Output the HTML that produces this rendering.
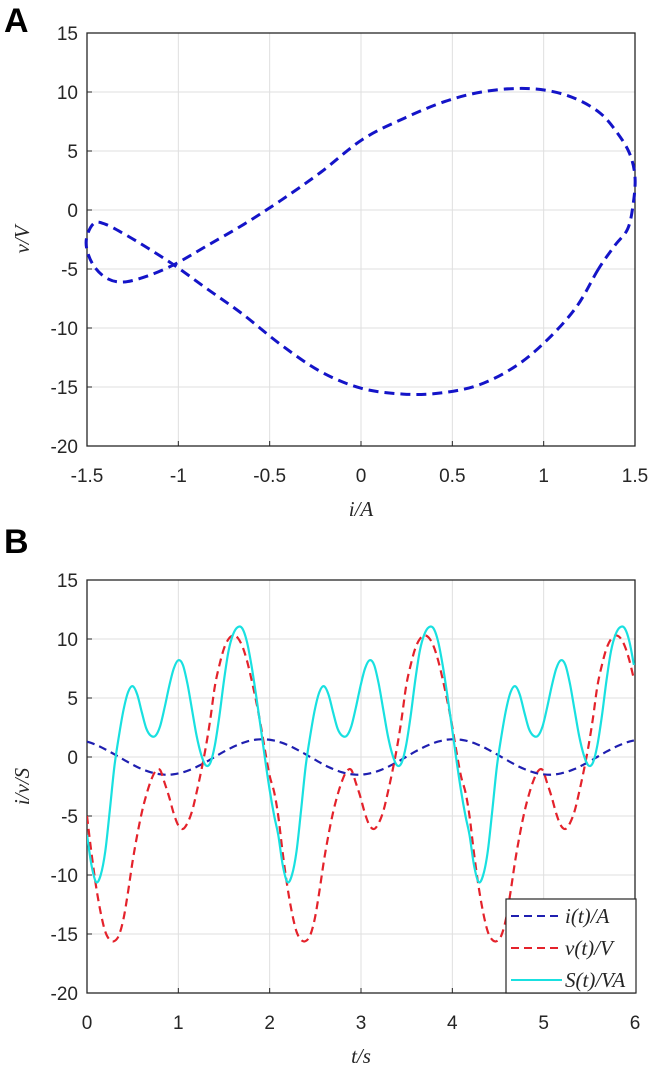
<!DOCTYPE html>
<html><head><meta charset="utf-8"><style>
body{margin:0;background:#fff;}
svg{display:block;font-family:"Liberation Sans",sans-serif;}
.tick{font-size:19px;fill:#262626;}
.lab{font-family:"Liberation Serif",serif;font-style:italic;font-size:21px;fill:#262626;}
</style></head><body>
<svg id="fig" width="666" height="1070" viewBox="0 0 666 1070"></svg>
<script>
// observed phase samples over one period (s)
const tauSamples=[0,0.05,0.1,0.15,0.2,0.25,0.3,0.35,0.4,0.45,0.5,0.55,0.6,0.65,0.7,0.75,0.8,0.85,0.9,0.95,1.0,1.05,1.1,1.15,1.2,1.25,1.3,1.35,1.4,1.45,1.5,1.55,1.6,1.65,1.7,1.75,1.8,1.85,1.9,1.95,2.0,2.05];
const cycleStarts=[0,2.094,4.188];
const iSamples=[1.30,1.18,1.02,0.85,0.65,0.44,0.23,0.00,-0.22,-0.44,-0.65,-0.85,-1.02,-1.17,-1.30,-1.40,-1.46,-1.50,-1.50,-1.46,-1.39,-1.30,-1.17,-1.02,-0.84,-0.64,-0.44,-0.22,0.01,0.24,0.46,0.66,0.86,1.03,1.18,1.31,1.40,1.47,1.50,1.49,1.46,1.39];
const vSamples=[-5,-8.2,-11,-13.2,-14.8,-15.5,-15.6,-15.1,-13.7,-11.4,-8.8,-6.6,-4.7,-3.2,-2.0,-1.2,-1.1,-2.2,-3.4,-4.8,-5.8,-6.1,-5.6,-4.6,-3.0,-1.2,0.8,3.2,6.0,7.8,9.2,10.0,10.3,10.1,9.4,8.2,6.6,4.8,2.8,0.5,-1.6,-3.0];
const sSamples=[-6.6,-9.2,-10.6,-10,-8,-4.5,-0.8,1.8,4,5.5,6,5.3,3.8,2.4,1.8,1.8,2.6,4.2,6,7.5,8.2,7.8,6.2,4,1.8,0.2,-0.7,-0.5,1,3.5,6.5,9,10.4,11,10.9,9.8,7.8,5.3,2.6,-0.2,-2.8,-5];
const xTicksA=[-1.5,-1,-0.5,0,0.5,1,1.5];
const xTickLabelsA=["-1.5","-1","-0.5","0","0.5","1","1.5"];
const yTicks=[15,10,5,0,-5,-10,-15,-20];
const yTickLabels=["15","10","5","0","-5","-10","-15","-20"];
const xTicksB=[0,1,2,3,4,5,6];
const xTickLabelsB=["0","1","2","3","4","5","6"];

const NS="http://www.w3.org/2000/svg";
const svg=document.getElementById('fig');
function mk(tag,attrs,parent){const e=document.createElementNS(NS,tag);for(const k in attrs)e.setAttribute(k,attrs[k]);(parent||svg).appendChild(e);return e;}
function smooth(pts,closed){
  const n=pts.length;let d="M"+pts[0][0].toFixed(2)+","+pts[0][1].toFixed(2);
  const g=k=>closed?pts[(k+n)%n]:pts[Math.max(0,Math.min(n-1,k))];
  const last=closed?n:n-1;
  for(let k=0;k<last;k++){const p0=g(k-1),p1=g(k),p2=g(k+1),p3=g(k+2);
    const c1=[p1[0]+(p2[0]-p0[0])/6,p1[1]+(p2[1]-p0[1])/6],c2=[p2[0]-(p3[0]-p1[0])/6,p2[1]-(p3[1]-p1[1])/6];
    d+=`C${c1[0].toFixed(2)},${c1[1].toFixed(2)} ${c2[0].toFixed(2)},${c2[1].toFixed(2)} ${p2[0].toFixed(2)},${p2[1].toFixed(2)}`;}
  return d+(closed?"Z":"");
}
function axes(name,L,R,T,B,xmin,xmax,xt,xtl,xlab,ylab){
  const sx=v=>L+(v-xmin)/(xmax-xmin)*(R-L), sy=v=>B-(v+20)/35*(B-T);
  const g=mk('g',{});
  
  
  xt.forEach((v,k)=>{const x=sx(v);
    const gl=mk('line',{x1:x,x2:x,y1:T,y2:B,stroke:'#dfdfdf','stroke-width':1},g);
    
    mk('line',{x1:x,x2:x,y1:B,y2:B-5,stroke:'#262626'},g);
    const t=mk('text',{x:x,y:B+36,'text-anchor':'middle',class:'tick'},g);t.textContent=xtl[k];
    });
  yTicks.forEach((v,k)=>{const y=sy(v);
    const gl=mk('line',{x1:L,x2:R,y1:y,y2:y,stroke:'#dfdfdf','stroke-width':1},g);
    
    mk('line',{x1:L,x2:L+5,y1:y,y2:y,stroke:'#262626'},g);
    const t=mk('text',{x:L-9,y:y+7,'text-anchor':'end',class:'tick'},g);t.textContent=yTickLabels[k];
    });
  const box=mk('rect',{x:L,y:T,width:R-L,height:B-T,fill:'none',stroke:'#262626','stroke-width':1.3},g);
  
  const xl=mk('text',{x:(L+R)/2,y:B+70,'text-anchor':'middle',class:'lab'},g);xl.textContent=xlab;
  
  const yl=mk('text',{x:0,y:0,'text-anchor':'middle',class:'lab',transform:`translate(29,${(T+B)/2}) rotate(-90)`},g);yl.textContent=ylab;
  
  return {sx,sy};
}
// Panel A
const A=axes('panel-a-axes',87,635,33,446,-1.5,1.5,xTicksA,xTickLabelsA,'i/A','v/V');
const ptsA=iSamples.map((iv,k)=>[A.sx(iv),A.sy(vSamples[k])]);
const pa=mk('path',{d:smooth(ptsA,true),fill:'none',stroke:'#1414c8','stroke-width':3,'stroke-dasharray':'10 6'});


// Panel B
const Bx=axes('panel-b-axes',87,635,580,993,0,6,xTicksB,xTickLabelsB,'t/s','i/v/S');
function seriesPts(vals){const out=[];cycleStarts.forEach(c=>tauSamples.forEach((tau,k)=>{const t=c+tau;if(t<=6.02)out.push([Bx.sx(Math.min(t,6)),Bx.sy(vals[k])]);}));return out;}
const clip=mk('clipPath',{id:'cb'});mk('rect',{x:87,y:580,width:548,height:413},clip);
const series=[[iSamples,'#1f1fb0','8 5','i-series-line'],[vSamples,'#e4222b','8 5','v-series-line'],[sSamples,'#19e0e0','','s-series-line']];
series.forEach(s=>{const p=mk('path',{d:smooth(seriesPts(s[0]),false),fill:'none',stroke:s[1],'stroke-width':2.2,'stroke-dasharray':s[2],'clip-path':'url(#cb)'});
  
  });
// legend
const lg=mk('g',{});


mk('rect',{x:506,y:899,width:130,height:94,fill:'#fff',stroke:'#262626','stroke-width':1.2},lg);
const entries=[['i(t)/A','#1f1fb0','8 5',916],['v(t)/V','#e4222b','8 5',948],['S(t)/VA','#19e0e0','',980]];
entries.forEach(e=>{const ge=mk('g',{},lg);
  
  
  mk('line',{x1:511,x2:562,y1:e[3],y2:e[3],stroke:e[1],'stroke-width':2,'stroke-dasharray':e[2]},ge);
  const t=mk('text',{x:565,y:e[3]+7,class:'lab'},ge);t.textContent=e[0];});
// panel letters
const la=mk('text',{x:4,y:32,'font-size':34,'font-weight':'bold',fill:'#000'});la.textContent='A';

const lb=mk('text',{x:4,y:553,'font-size':34,'font-weight':'bold',fill:'#000'});lb.textContent='B';

</script>
</body></html>
